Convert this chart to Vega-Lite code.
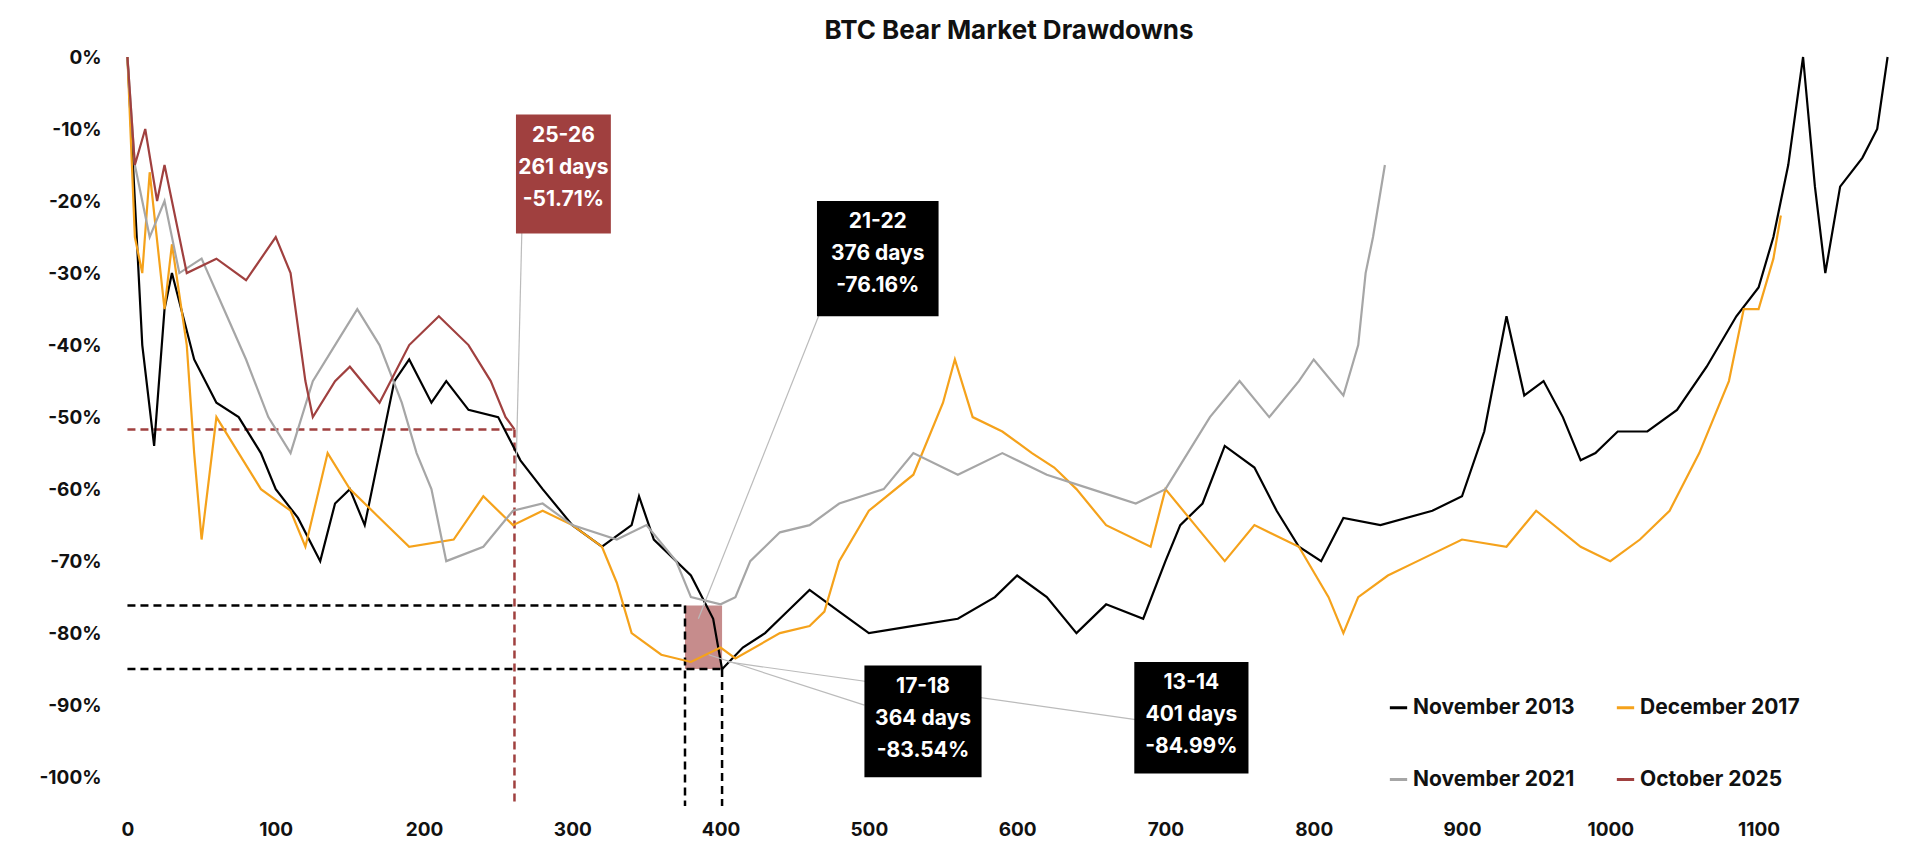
{
  "$schema": "https://vega.github.io/schema/vega-lite/v6.json",
  "width": 1920, "height": 861,
  "autosize": {"type": "fit", "contains": "padding"},
  "padding": {"left": 38, "right": 25, "top": 18, "bottom": 22},
  "background": "white",
  "config": {"view": {"stroke": null}, "font": "Inter"},
  "title": {"text": "BTC Bear Market Drawdowns", "fontSize": 26, "fontWeight": "bold", "color": "#111", "font": "Inter", "offset": 4},
  "datasets": {
    "series": [
      {"s":"November 2013","d":0,"v":0},{"s":"November 2013","d":5,"v":-20},{"s":"November 2013","d":10,"v":-40},{"s":"November 2013","d":18,"v":-54},{"s":"November 2013","d":25,"v":-35},{"s":"November 2013","d":30,"v":-30},{"s":"November 2013","d":45,"v":-42},{"s":"November 2013","d":60,"v":-48},{"s":"November 2013","d":75,"v":-50},{"s":"November 2013","d":90,"v":-55},{"s":"November 2013","d":100,"v":-60},{"s":"November 2013","d":115,"v":-64},{"s":"November 2013","d":130,"v":-70},{"s":"November 2013","d":140,"v":-62},{"s":"November 2013","d":150,"v":-60},{"s":"November 2013","d":160,"v":-65},{"s":"November 2013","d":170,"v":-55},{"s":"November 2013","d":180,"v":-45},{"s":"November 2013","d":190,"v":-42},{"s":"November 2013","d":205,"v":-48},{"s":"November 2013","d":215,"v":-45},{"s":"November 2013","d":230,"v":-49},{"s":"November 2013","d":250,"v":-50},{"s":"November 2013","d":265,"v":-56},{"s":"November 2013","d":280,"v":-60},{"s":"November 2013","d":300,"v":-65},{"s":"November 2013","d":320,"v":-68},{"s":"November 2013","d":340,"v":-65},{"s":"November 2013","d":345,"v":-61},{"s":"November 2013","d":355,"v":-67},{"s":"November 2013","d":380,"v":-72},{"s":"November 2013","d":395,"v":-78},{"s":"November 2013","d":401,"v":-85},{"s":"November 2013","d":415,"v":-82},{"s":"November 2013","d":430,"v":-80},{"s":"November 2013","d":445,"v":-77},{"s":"November 2013","d":460,"v":-74},{"s":"November 2013","d":480,"v":-77},{"s":"November 2013","d":500,"v":-80},{"s":"November 2013","d":530,"v":-79},{"s":"November 2013","d":560,"v":-78},{"s":"November 2013","d":585,"v":-75},{"s":"November 2013","d":600,"v":-72},{"s":"November 2013","d":620,"v":-75},{"s":"November 2013","d":640,"v":-80},{"s":"November 2013","d":660,"v":-76},{"s":"November 2013","d":685,"v":-78},{"s":"November 2013","d":700,"v":-70},{"s":"November 2013","d":710,"v":-65},{"s":"November 2013","d":725,"v":-62},{"s":"November 2013","d":740,"v":-54},{"s":"November 2013","d":760,"v":-57},{"s":"November 2013","d":775,"v":-63},{"s":"November 2013","d":790,"v":-68},{"s":"November 2013","d":805,"v":-70},{"s":"November 2013","d":820,"v":-64},{"s":"November 2013","d":845,"v":-65},{"s":"November 2013","d":880,"v":-63},{"s":"November 2013","d":900,"v":-61},{"s":"November 2013","d":915,"v":-52},{"s":"November 2013","d":930,"v":-36},{"s":"November 2013","d":942,"v":-47},{"s":"November 2013","d":955,"v":-45},{"s":"November 2013","d":968,"v":-50},{"s":"November 2013","d":980,"v":-56},{"s":"November 2013","d":990,"v":-55},{"s":"November 2013","d":1005,"v":-52},{"s":"November 2013","d":1025,"v":-52},{"s":"November 2013","d":1045,"v":-49},{"s":"November 2013","d":1065,"v":-43},{"s":"November 2013","d":1085,"v":-36},{"s":"November 2013","d":1100,"v":-32},{"s":"November 2013","d":1110,"v":-25},{"s":"November 2013","d":1120,"v":-15},{"s":"November 2013","d":1130,"v":0},{"s":"November 2013","d":1138,"v":-18},{"s":"November 2013","d":1145,"v":-30},{"s":"November 2013","d":1155,"v":-18},{"s":"November 2013","d":1170,"v":-14},{"s":"November 2013","d":1180,"v":-10},{"s":"November 2013","d":1187,"v":0},

      {"s":"December 2017","d":0,"v":0},{"s":"December 2017","d":5,"v":-25},{"s":"December 2017","d":10,"v":-30},{"s":"December 2017","d":15,"v":-16},{"s":"December 2017","d":25,"v":-35},{"s":"December 2017","d":30,"v":-26},{"s":"December 2017","d":40,"v":-40},{"s":"December 2017","d":45,"v":-55},{"s":"December 2017","d":50,"v":-67},{"s":"December 2017","d":60,"v":-50},{"s":"December 2017","d":75,"v":-55},{"s":"December 2017","d":90,"v":-60},{"s":"December 2017","d":110,"v":-63},{"s":"December 2017","d":120,"v":-68},{"s":"December 2017","d":135,"v":-55},{"s":"December 2017","d":150,"v":-60},{"s":"December 2017","d":170,"v":-64},{"s":"December 2017","d":190,"v":-68},{"s":"December 2017","d":220,"v":-67},{"s":"December 2017","d":240,"v":-61},{"s":"December 2017","d":260,"v":-65},{"s":"December 2017","d":280,"v":-63},{"s":"December 2017","d":300,"v":-65},{"s":"December 2017","d":320,"v":-68},{"s":"December 2017","d":330,"v":-73},{"s":"December 2017","d":340,"v":-80},{"s":"December 2017","d":360,"v":-83},{"s":"December 2017","d":380,"v":-84},{"s":"December 2017","d":400,"v":-82},{"s":"December 2017","d":410,"v":-83.5},{"s":"December 2017","d":440,"v":-80},{"s":"December 2017","d":460,"v":-79},{"s":"December 2017","d":470,"v":-77},{"s":"December 2017","d":480,"v":-70},{"s":"December 2017","d":500,"v":-63},{"s":"December 2017","d":530,"v":-58},{"s":"December 2017","d":550,"v":-48},{"s":"December 2017","d":558,"v":-42},{"s":"December 2017","d":570,"v":-50},{"s":"December 2017","d":590,"v":-52},{"s":"December 2017","d":610,"v":-55},{"s":"December 2017","d":625,"v":-57},{"s":"December 2017","d":640,"v":-60},{"s":"December 2017","d":660,"v":-65},{"s":"December 2017","d":690,"v":-68},{"s":"December 2017","d":700,"v":-60},{"s":"December 2017","d":720,"v":-65},{"s":"December 2017","d":740,"v":-70},{"s":"December 2017","d":760,"v":-65},{"s":"December 2017","d":790,"v":-68},{"s":"December 2017","d":810,"v":-75},{"s":"December 2017","d":820,"v":-80},{"s":"December 2017","d":830,"v":-75},{"s":"December 2017","d":850,"v":-72},{"s":"December 2017","d":870,"v":-70},{"s":"December 2017","d":900,"v":-67},{"s":"December 2017","d":930,"v":-68},{"s":"December 2017","d":950,"v":-63},{"s":"December 2017","d":980,"v":-68},{"s":"December 2017","d":1000,"v":-70},{"s":"December 2017","d":1020,"v":-67},{"s":"December 2017","d":1040,"v":-63},{"s":"December 2017","d":1060,"v":-55},{"s":"December 2017","d":1080,"v":-45},{"s":"December 2017","d":1090,"v":-35},{"s":"December 2017","d":1100,"v":-35},{"s":"December 2017","d":1110,"v":-28},{"s":"December 2017","d":1115,"v":-22},

      {"s":"November 2021","d":0,"v":0},{"s":"November 2021","d":5,"v":-15},{"s":"November 2021","d":15,"v":-25},{"s":"November 2021","d":25,"v":-20},{"s":"November 2021","d":35,"v":-30},{"s":"November 2021","d":50,"v":-28},{"s":"November 2021","d":65,"v":-35},{"s":"November 2021","d":80,"v":-42},{"s":"November 2021","d":95,"v":-50},{"s":"November 2021","d":110,"v":-55},{"s":"November 2021","d":125,"v":-45},{"s":"November 2021","d":140,"v":-40},{"s":"November 2021","d":155,"v":-35},{"s":"November 2021","d":170,"v":-40},{"s":"November 2021","d":185,"v":-48},{"s":"November 2021","d":195,"v":-55},{"s":"November 2021","d":205,"v":-60},{"s":"November 2021","d":215,"v":-70},{"s":"November 2021","d":240,"v":-68},{"s":"November 2021","d":260,"v":-63},{"s":"November 2021","d":280,"v":-62},{"s":"November 2021","d":300,"v":-65},{"s":"November 2021","d":330,"v":-67},{"s":"November 2021","d":350,"v":-65},{"s":"November 2021","d":370,"v":-70},{"s":"November 2021","d":380,"v":-75},{"s":"November 2021","d":400,"v":-76},{"s":"November 2021","d":410,"v":-75},{"s":"November 2021","d":420,"v":-70},{"s":"November 2021","d":440,"v":-66},{"s":"November 2021","d":460,"v":-65},{"s":"November 2021","d":480,"v":-62},{"s":"November 2021","d":510,"v":-60},{"s":"November 2021","d":530,"v":-55},{"s":"November 2021","d":560,"v":-58},{"s":"November 2021","d":590,"v":-55},{"s":"November 2021","d":620,"v":-58},{"s":"November 2021","d":650,"v":-60},{"s":"November 2021","d":680,"v":-62},{"s":"November 2021","d":700,"v":-60},{"s":"November 2021","d":715,"v":-55},{"s":"November 2021","d":730,"v":-50},{"s":"November 2021","d":750,"v":-45},{"s":"November 2021","d":770,"v":-50},{"s":"November 2021","d":790,"v":-45},{"s":"November 2021","d":800,"v":-42},{"s":"November 2021","d":820,"v":-47},{"s":"November 2021","d":830,"v":-40},{"s":"November 2021","d":835,"v":-30},{"s":"November 2021","d":840,"v":-25},{"s":"November 2021","d":848,"v":-15},

      {"s":"October 2025","d":0,"v":0},{"s":"October 2025","d":5,"v":-15},{"s":"October 2025","d":12,"v":-10},{"s":"October 2025","d":20,"v":-20},{"s":"October 2025","d":25,"v":-15},{"s":"October 2025","d":40,"v":-30},{"s":"October 2025","d":60,"v":-28},{"s":"October 2025","d":80,"v":-31},{"s":"October 2025","d":100,"v":-25},{"s":"October 2025","d":110,"v":-30},{"s":"October 2025","d":120,"v":-45},{"s":"October 2025","d":125,"v":-50},{"s":"October 2025","d":140,"v":-45},{"s":"October 2025","d":150,"v":-43},{"s":"October 2025","d":170,"v":-48},{"s":"October 2025","d":190,"v":-40},{"s":"October 2025","d":210,"v":-36},{"s":"October 2025","d":230,"v":-40},{"s":"October 2025","d":245,"v":-45},{"s":"October 2025","d":255,"v":-50},{"s":"October 2025","d":261,"v":-51.71}
    ],
    "dashes": [
      {"x":0,"x2":261,"y":-51.71,"y2":-51.71,"c":"#A0403F"},
      {"x":261,"x2":261,"y":-51.71,"y2":-104,"c":"#A0403F"},
      {"x":0,"x2":376,"y":-76.16,"y2":-76.16,"c":"#000000"},
      {"x":0,"x2":401,"y":-84.99,"y2":-84.99,"c":"#000000"},
      {"x":376,"x2":376,"y":-76.16,"y2":-104,"c":"#000000"},
      {"x":401,"x2":401,"y":-84.99,"y2":-104,"c":"#000000"}
    ],
    "connectors": [
      {"x":266,"y":-24,"x2":262,"y2":-58},
      {"x":468,"y":-35,"x2":385,"y2":-78},
      {"x":497,"y":-90,"x2":392,"y2":-83},
      {"x":680,"y":-92,"x2":405,"y2":-84}
    ],
    "boxes": [
      {"x":262,"x2":326,"y":-8,"y2":-24.5,"c":"#A0403F","t1":"25-26","t2":"261 days","t3":"-51.71%"},
      {"x":465,"x2":547,"y":-20,"y2":-36,"c":"#000000","t1":"21-22","t2":"376 days","t3":"-76.16%"},
      {"x":497,"x2":576,"y":-84.5,"y2":-100,"c":"#000000","t1":"17-18","t2":"364 days","t3":"-83.54%"},
      {"x":679,"x2":756,"y":-84,"y2":-99.5,"c":"#000000","t1":"13-14","t2":"401 days","t3":"-84.99%"}
    ]
  },
  "encoding": {},
  "layer": [
    {
      "data": {"values": [{"x":376,"x2":401,"y":-76.16,"y2":-84.99}]},
      "mark": {"type": "rect", "color": "#A0403F", "opacity": 0.6},
      "encoding": {
        "x": {"field": "x", "type": "quantitative", "scale": {"domain": [-3, 1192], "nice": false}},
        "x2": {"field": "x2"},
        "y": {"field": "y", "type": "quantitative", "scale": {"domain": [-104, 0], "nice": false}},
        "y2": {"field": "y2"}
      }
    },
    {
      "data": {"name": "dashes"},
      "mark": {"type": "rule", "strokeDash": [8, 5], "strokeWidth": 2.5},
      "encoding": {
        "x": {"field": "x", "type": "quantitative"},
        "x2": {"field": "x2"},
        "y": {"field": "y", "type": "quantitative"},
        "y2": {"field": "y2"},
        "color": {"field": "c", "type": "nominal", "scale": null}
      }
    },
    {
      "data": {"name": "series"},
      "mark": {"type": "line", "strokeWidth": 2.2, "interpolate": "linear"},
      "encoding": {
        "x": {"field": "d", "type": "quantitative",
          "axis": {"title": null, "values": [0,100,200,300,400,500,600,700,800,900,1000,1100], "format": "d", "labelFontSize": 19, "labelFontWeight": "bold", "labelColor": "#111", "grid": false, "domain": false, "ticks": false, "labelPadding": 14}},
        "y": {"field": "v", "type": "quantitative",
          "axis": {"title": null, "values": [0,-10,-20,-30,-40,-50,-60,-70,-80,-90,-100], "labelExpr": "datum.value + '%'", "labelFontSize": 19, "labelFontWeight": "bold", "labelColor": "#111", "grid": false, "domain": false, "ticks": false, "labelPadding": 22}},
        "color": {"field": "s", "type": "nominal",
          "scale": {"domain": ["November 2013", "November 2021", "December 2017", "October 2025"], "range": ["#000000", "#A6A6A6", "#F5A21B", "#A0403F"]},
          "legend": {"title": null, "orient": "none", "legendX": 1265, "legendY": 640, "columns": 2, "columnPadding": 35, "rowPadding": 50, "labelLimit": 400, "symbolType": "stroke", "symbolStrokeWidth": 3, "symbolSize": 300, "labelFontSize": 21, "labelFontWeight": "bold", "labelColor": "#111"}},
        "order": {"field": "d", "type": "quantitative"}
      }
    },
    {
      "data": {"name": "connectors"},
      "mark": {"type": "rule", "color": "#BBBBBB", "strokeWidth": 1.2},
      "encoding": {
        "x": {"field": "x", "type": "quantitative"},
        "x2": {"field": "x2"},
        "y": {"field": "y", "type": "quantitative"},
        "y2": {"field": "y2"}
      }
    },
    {
      "data": {"name": "boxes"},
      "transform": [
        {"calculate": "(datum.x + datum.x2) / 2", "as": "xm"},
        {"calculate": "[datum.t1, datum.t2, datum.t3]", "as": "lines"}
      ],
      "layer": [
        {
          "mark": {"type": "rect"},
          "encoding": {
            "x": {"field": "x", "type": "quantitative"},
            "x2": {"field": "x2"},
            "y": {"field": "y", "type": "quantitative"},
            "y2": {"field": "y2"},
            "color": {"field": "c", "type": "nominal", "scale": null}
          }
        },
        {
          "mark": {"type": "text", "color": "white", "fontSize": 21, "fontWeight": "bold", "align": "center", "baseline": "top", "lineHeight": 32, "dy": 10},
          "encoding": {
            "x": {"field": "xm", "type": "quantitative"},
            "y": {"field": "y", "type": "quantitative"},
            "text": {"field": "lines"}
          }
        }
      ]
    }
  ]
}
